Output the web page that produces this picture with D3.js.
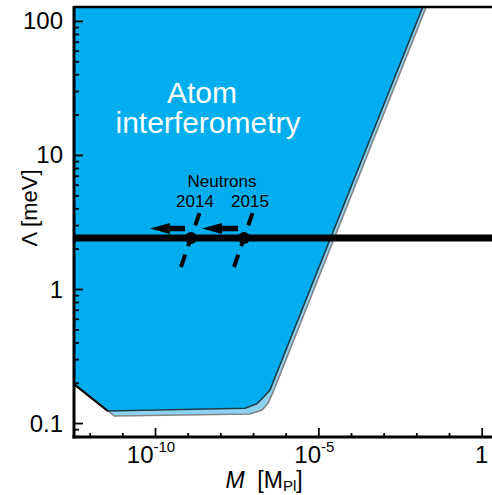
<!DOCTYPE html>
<html>
<head>
<meta charset="utf-8">
<script src="https://cdn.jsdelivr.net/npm/d3@7"></script>
<style>
body{margin:0;background:#fff;}
svg{display:block;font-family:"Liberation Sans",Arial,Helvetica,sans-serif;}
</style>
</head>
<body>
<div id="chart"></div>
<script>
// atom interferometry excluded region (M in M_Pl, Lambda in meV)
var atomM = [1e-13, 3.6e-12, 5.7e-8, 1.3e-7, 2.0e-7, 3.3e-7, 3.3e-2, 1e-13];
var atomL = [0.246, 0.123, 0.129, 0.139, 0.154, 0.176, 200, 200];
// lighter band just outside it
var bandM = [1e-13, 5.7e-12, 8.1e-8, 1.9e-7, 2.9e-7, 4.1e-7, 4.2e-2, 1e-13];
var bandL = [0.246, 0.1128, 0.1167, 0.125, 0.141, 0.170, 200, 200];
// dark energy scale
var darkEnergy = 2.4;
// neutron bounds
var neutronYears = ["2014", "2015"];
var neutronM = [1.26e-9, 5.3e-8];
var arrowTipM = [7.0e-11, 2.75e-9];
// ticks
var xMajor = [1e-10, 1e-5, 1];
var xMajorExp = ["-10", "-5", null];
var yMajor = [0.1, 1, 10, 100];
var yMajorLabels = ["0.1", "1", "10", "100"];

var W = 492, H = 495;
var pLeft = 74, pTop = 7, pBottom = 437, pRight = 493.1;

var x = d3.scaleLog().domain([Math.pow(10, -12.48), Math.pow(10, 0.35)]).range([pLeft, pRight]);
var y = d3.scaleLog().domain([Math.pow(10, -1.104), Math.pow(10, 2.104)]).range([pBottom, pTop]);

var svg = d3.select("#chart").append("svg")
    .attr("width", W)
    .attr("height", H);

svg.append("clipPath").attr("id", "plot-clip")
    .append("rect")
    .attr("x", pLeft).attr("y", pTop)
    .attr("width", pRight - pLeft).attr("height", pBottom - pTop);

var plot = svg.append("g").attr("clip-path", "url(#plot-clip)");

var line = d3.line()
    .x(function(d) { return x(d[0]); })
    .y(function(d) { return y(d[1]); });

var bandPts = bandM.map(function(m, i) { return [m, bandL[i]]; });
var atomPts = atomM.map(function(m, i) { return [m, atomL[i]]; });

plot.append("path")
    .attr("d", line(bandPts) + "Z")
    .attr("fill", "#8dd3f1")
    .attr("stroke", "#858585")
    .attr("stroke-width", 1.6);

plot.append("path")
    .attr("d", line(atomPts) + "Z")
    .attr("fill", "#00aeef")
    .attr("stroke", "#1e3c48")
    .attr("stroke-width", 1.6);

// black lower-left edge
plot.append("path")
    .attr("d", line(atomPts.slice(0, 2)))
    .attr("fill", "none")
    .attr("stroke", "#000")
    .attr("stroke-width", 2.2);

// dark energy line
var yDE = y(darkEnergy);
plot.append("line")
    .attr("x1", pLeft).attr("x2", pRight)
    .attr("y1", yDE).attr("y2", yDE)
    .attr("stroke", "#000")
    .attr("stroke-width", 7);

// neutron markers
neutronM.forEach(function(m, i) {
    var cx = x(m);
    var tip = x(arrowTipM[i]);
    var ay = yDE - 9.5;
    plot.append("line")
        .attr("x1", cx - 6).attr("x2", tip + 18)
        .attr("y1", ay).attr("y2", ay)
        .attr("stroke", "#000").attr("stroke-width", 5.5);
    plot.append("path")
        .attr("d", "M" + tip + "," + ay + "L" + (tip + 20) + "," + (ay - 5.5) + "L" + (tip + 20) + "," + (ay + 5.5) + "Z")
        .attr("fill", "#000");
    plot.append("line")
        .attr("x1", cx + 8.5).attr("y1", yDE - 25)
        .attr("x2", cx - 10).attr("y2", yDE + 29)
        .attr("stroke", "#000").attr("stroke-width", 4)
        .attr("stroke-dasharray", "13,9");
    plot.append("circle")
        .attr("cx", cx).attr("cy", yDE).attr("r", 6)
        .attr("fill", "#000");
});

// annotation text
plot.append("text").attr("x", 222).attr("y", 187)
    .attr("text-anchor", "middle").attr("font-size", 17)
    .text("Neutrons");
neutronYears.forEach(function(t, i) {
    plot.append("text")
        .attr("x", [195, 250][i]).attr("y", 207)
        .attr("text-anchor", "middle").attr("font-size", 17)
        .text(t);
});

plot.append("text").attr("x", 202).attr("y", 103)
    .attr("text-anchor", "middle").attr("font-size", 30).attr("fill", "#fff")
    .text("Atom");
plot.append("text").attr("x", 208).attr("y", 133)
    .attr("text-anchor", "middle").attr("font-size", 30).attr("fill", "#fff")
    .text("interferometry");

// ticks (inward)
var xMinor = d3.range(-12, 1).map(function(e) { return Math.pow(10, e); })
    .filter(function(v) { return xMajor.indexOf(v) < 0; });
var yMinor = [];
[-2, -1, 0, 1, 2].forEach(function(e) {
    for (var k = 2; k <= 9; k++) {
        var v = k * Math.pow(10, e);
        if (v >= y.domain()[0] && v <= y.domain()[1]) yMinor.push(v);
    }
});

function styleTicks(g) {
    g.select(".domain").remove();
    g.selectAll(".tick line").attr("stroke", "#000").attr("stroke-width", 1.8);
}

svg.append("g").attr("transform", "translate(0," + pBottom + ")")
    .call(d3.axisBottom(x).tickValues(xMajor).tickSize(-9).tickFormat(""))
    .call(styleTicks);
svg.append("g").attr("transform", "translate(0," + pBottom + ")")
    .call(d3.axisBottom(x).tickValues(xMinor).tickSize(-4).tickFormat(""))
    .call(styleTicks);
svg.append("g").attr("transform", "translate(" + pLeft + ",0)")
    .call(d3.axisLeft(y).tickValues(yMajor).tickSize(-9).tickFormat(""))
    .call(styleTicks);
svg.append("g").attr("transform", "translate(" + pLeft + ",0)")
    .call(d3.axisLeft(y).tickValues(yMinor).tickSize(-5).tickFormat(""))
    .call(styleTicks);

// frame
svg.append("line").attr("x1", pLeft).attr("x2", pLeft).attr("y1", pTop - 1).attr("y2", pBottom + 1.5)
    .attr("stroke", "#000").attr("stroke-width", 3);
svg.append("line").attr("x1", pLeft - 1.5).attr("x2", W).attr("y1", pBottom).attr("y2", pBottom)
    .attr("stroke", "#000").attr("stroke-width", 3);
svg.append("line").attr("x1", pLeft).attr("x2", W).attr("y1", pTop).attr("y2", pTop)
    .attr("stroke", "#000").attr("stroke-width", 2.5);

// tick labels
xMajor.forEach(function(v, i) {
    var t = svg.append("text")
        .attr("x", x(v) - (xMajorExp[i] ? 4 : 0)).attr("y", 463)
        .attr("text-anchor", "middle").attr("font-size", 24);
    if (xMajorExp[i]) {
        t.append("tspan").text("10");
        t.append("tspan").attr("dy", -11).attr("font-size", 15).text(xMajorExp[i]);
    } else {
        t.text("1");
    }
});
yMajor.forEach(function(v, i) {
    svg.append("text")
        .attr("x", 63).attr("y", y(v) + 8.5)
        .attr("text-anchor", "end").attr("font-size", 24)
        .text(yMajorLabels[i]);
});

// axis titles
var xt = svg.append("text").attr("x", 264).attr("y", 488)
    .attr("text-anchor", "middle").attr("font-size", 23);
xt.append("tspan").attr("font-style", "italic").text("M");
xt.append("tspan").text("\u00a0 [M");
xt.append("tspan").attr("font-size", 15).attr("dy", 3).text("Pl");
xt.append("tspan").attr("dy", -3).text("]");

svg.append("text")
    .attr("transform", "translate(37,208) rotate(-90)")
    .attr("text-anchor", "middle").attr("font-size", 22)
    .text("\u039b [meV]");
</script>
</body>
</html>
